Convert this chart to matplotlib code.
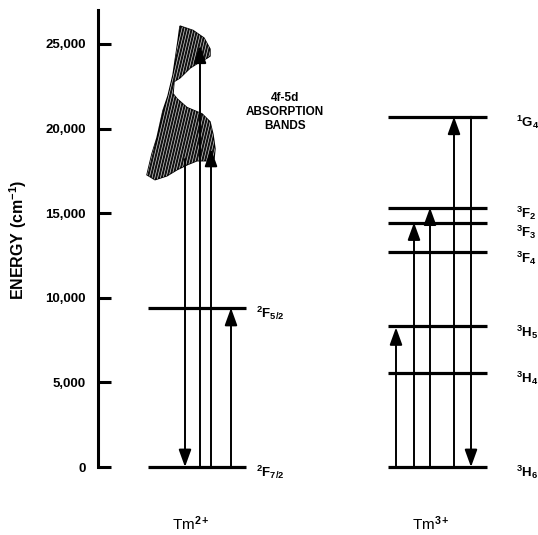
import numpy as np
import matplotlib
matplotlib.use("Agg")
import matplotlib.pyplot as plt
from matplotlib.patches import Polygon
from matplotlib.ticker import FuncFormatter

plt.rcParams['font.family'] = ['Liberation Sans', 'DejaVu Sans']
plt.rcParams['mathtext.fontset'] = 'custom'
plt.rcParams['mathtext.rm'] = 'Liberation Sans:bold'
plt.rcParams['mathtext.bf'] = 'Liberation Sans:bold'
plt.rcParams['mathtext.it'] = 'Liberation Sans:bold'

# ---- data (energies in cm^-1) ----
tm2_levels = [0, 9400]
tm2_labels = [r'$^{2}$F$_{7/2}$', r'$^{2}$F$_{5/2}$']
tm3_levels = [0, 5540, 8310, 12680, 14450, 15330, 20700]
tm3_labels = [r'$^{3}$H$_{6}$', r'$^{3}$H$_{4}$', r'$^{3}$H$_{5}$', r'$^{3}$F$_{4}$',
              r'$^{3}$F$_{3}$', r'$^{3}$F$_{2}$', r'$^{1}$G$_{4}$']
# transitions: (x position, start energy, end energy)
tm2_x = [185, 200, 211, 231]
tm2_start = [18200, 0, 0, 0]
tm2_end = [0, 24900, 18800, 9400]
tm3_x = [396, 414, 430, 454, 471]
tm3_start = [0, 0, 0, 0, 20700]
tm3_end = [8250, 14450, 15330, 20700, 0]
# 4f-5d absorption band outline
band_x = [180, 193, 204, 210, 210, 207, 198, 190, 180, 174, 173, 177, 187, 202, 210, 213,
          215, 214, 207, 197, 187, 177, 167, 155, 147, 152, 157, 163, 168, 173, 178, 180]
band_e = [26060, 25800, 25350, 24700, 24290, 24170, 23880, 23580, 23000, 22780, 22060, 21760,
          21240, 20870, 20400, 19640, 18810, 18220, 18100, 18100, 17860, 17570, 17210, 16980,
          17270, 18510, 19460, 21060, 21930, 23170, 25180, 26060]
yticks = [0, 5000, 10000, 15000, 20000, 25000]

W, H = 538, 535
fig = plt.figure(figsize=(W / 100, H / 100), dpi=100)
x0, ytop, ybot = 98, 10, 467
ax = fig.add_axes([x0 / W, (H - ybot) / H, 1 - x0 / W, (ybot - ytop) / H])
px_per = (ybot - 44) / 25000.0
ymax = (ybot - ytop) / px_per
ax.set_xlim(x0, W)
ax.set_ylim(0, ymax)

for s in ['top', 'right', 'bottom']:
    ax.spines[s].set_visible(False)
ax.spines['left'].set_linewidth(2.2)
ax.set_xticks([])
ax.set_yticks(yticks)
ax.yaxis.set_major_formatter(FuncFormatter(lambda v, p: f'{int(v):,}'))
ax.tick_params(axis='y', direction='in', length=9, width=2.2, pad=9, labelsize=9.5)
for t in ax.get_yticklabels():
    t.set_fontweight('bold')
ax.set_ylabel(r'ENERGY (cm$^{-1}$)', fontsize=11.5, fontweight='bold')
ax.yaxis.set_label_coords((18 - x0) / (W - x0), (ybot - 240) / (ybot - ytop))
ax.yaxis.label.set_va('center')

lw_level = 2.3
min_gap = 1150  # minimal label spacing (energy units) so labels don't collide


def label_positions(levels):
    order = np.argsort(levels)[::-1]
    pos = {}
    prev = None
    for i in order:
        y = levels[i] - 330
        if prev is not None and prev - y < min_gap:
            y = prev - min_gap
        pos[i] = y
        prev = y
    return [pos[i] for i in range(len(levels))]


# Tm2+ levels
for e, lab, ly in zip(tm2_levels, tm2_labels, label_positions(tm2_levels)):
    ax.plot([148, 246], [e, e], color='k', lw=lw_level, solid_capstyle='butt', clip_on=False)
    ax.text(256, ly, lab, fontsize=9.5, fontweight='bold', ha='left', va='center',
            clip_on=False)
# Tm3+ levels
for e, lab, ly in zip(tm3_levels, tm3_labels, label_positions(tm3_levels)):
    ax.plot([388, 487], [e, e], color='k', lw=lw_level, solid_capstyle='butt', clip_on=False)
    ax.text(516, ly, lab, fontsize=9.5, fontweight='bold', ha='left', va='center',
            clip_on=False)

# absorption band (hatched)
poly = Polygon(np.column_stack([band_x, band_e]), closed=True, facecolor='#111111',
               edgecolor='k', lw=1.0, zorder=3)
ax.add_patch(poly)
slope = 4.2 / px_per  # energy units per x unit (steep streaks)
for xs in np.arange(110, 232, 2.8):
    ln, = ax.plot([xs, xs + 60], [15000, 15000 + 60 * slope],
                  color='white', lw=0.45, alpha=0.9, zorder=4)
    ln.set_clip_path(poly)


def arrow(x, e0, e1):
    ax.annotate('', xy=(x, e1), xytext=(x, e0),
                arrowprops=dict(arrowstyle='-|>,head_length=1.05,head_width=0.38',
                                lw=1.4, color='k', shrinkA=0, shrinkB=0),
                annotation_clip=False, zorder=5)


for x, a, b in zip(tm2_x, tm2_start, tm2_end):
    arrow(x, a, b)
for x, a, b in zip(tm3_x, tm3_start, tm3_end):
    arrow(x, a, b)

ax.text(285, (ybot - 112) / px_per, '4f-5d\nABSORPTION\nBANDS', fontsize=8.5,
        ha='center', va='center', linespacing=1.25, fontweight='bold')

fig.text(191 / W, 1 - 524 / H, r'Tm$^{2+}$', fontsize=11, ha='center', va='center')
fig.text(431 / W, 1 - 524 / H, r'Tm$^{3+}$', fontsize=11, ha='center', va='center')

fig.savefig('out.png', dpi=100)
